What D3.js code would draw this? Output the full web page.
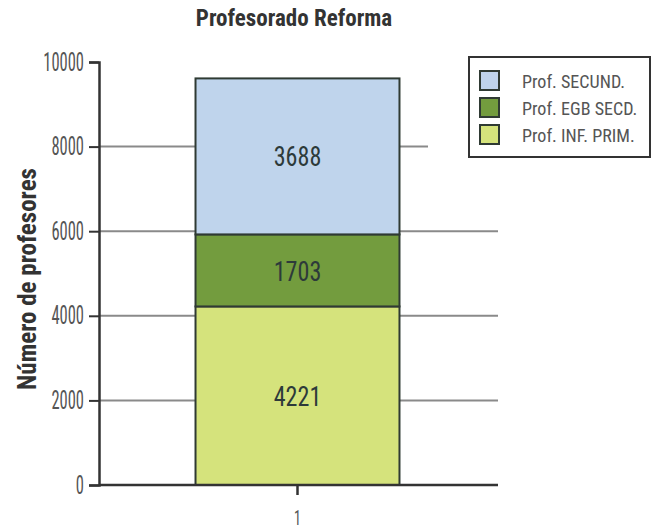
<!DOCTYPE html>
<html><head><meta charset="utf-8">
<script src="https://cdn.jsdelivr.net/npm/d3@7"></script>
<style>body{margin:0;background:#fff}</style>
</head><body>
<script>
const categories = ["1"];
const seriesNames = ["Prof. INF. PRIM.", "Prof. EGB SECD.", "Prof. SECUND."];
const infPrim = [4221];
const egbSecd = [1703];
const secund = [3688];
const yTicks = [0, 2000, 4000, 6000, 8000, 10000];
const colors = ["#d5e37c", "#739c3e", "#bfd4ec"];

const W = 654, H = 531;
const FONT = "'Roboto Condensed','Liberation Sans Narrow','Arial Narrow',sans-serif";
const svg = d3.select("body").append("svg").attr("width", W).attr("height", H);

function squeeze(sel, f) {
  sel.each(function () {
    const L = this.getComputedTextLength();
    d3.select(this).attr("textLength", L * f).attr("lengthAdjust", "spacingAndGlyphs");
  });
}

const x0 = 99, x1 = 498, yTop = 62, yBot = 485;
const y = d3.scaleLinear().domain([0, 10000]).range([yBot, yTop]);
const x = d3.scaleBand().domain(categories).range([x0 - 2, x1]).paddingInner(0).paddingOuter(0.483);

const rows = categories.map((c, i) => ({cat: c, v: [infPrim[i], egbSecd[i], secund[i]]}));
const stack = d3.stack().keys([0, 1, 2]).value((d, k) => d.v[k]);
const stacked = stack(rows);

// gridlines
svg.append("g").selectAll("line").data(yTicks.filter(t => t > 0 && t < 10000)).join("line")
  .attr("x1", x0).attr("x2", d => d === 8000 ? 428 : x1)
  .attr("y1", d => y(d)).attr("y2", d => y(d))
  .attr("stroke", "#8a8a8a").attr("stroke-width", 2);

// bars
const g = svg.append("g");
stacked.forEach((s, k) => {
  g.selectAll(null).data(s).join("rect")
    .attr("x", d => x(d.data.cat)).attr("width", x.bandwidth())
    .attr("y", d => y(d[1])).attr("height", d => y(d[0]) - y(d[1]))
    .attr("fill", colors[k]).attr("stroke", "#2f3a33").attr("stroke-width", 2);
  g.selectAll(null).data(s).join("text")
    .attr("x", d => x(d.data.cat) + x.bandwidth() / 2)
    .attr("y", d => (y(d[0]) + y(d[1])) / 2)
    .attr("dy", "0.36em").attr("text-anchor", "middle")
    .attr("font-family", FONT).attr("font-size", 28).attr("fill", "#2d3a3a")
    .text(d => d.data.v[k])
    .call(squeeze, 0.86);
});

// y axis
const ya = svg.append("g").attr("transform", `translate(${x0},0)`)
  .call(d3.axisLeft(y).tickValues(yTicks).tickSize(10).tickPadding(5).tickFormat(d3.format("d")));
ya.select(".domain").attr("stroke", "#333").attr("stroke-width", 2.5);
ya.selectAll(".tick line").attr("stroke", "#333").attr("stroke-width", 2);
ya.selectAll("text").attr("font-family", FONT).attr("font-size", 25).attr("fill", "#555")
  .call(squeeze, 0.66);

// x axis
const xa = svg.append("g").attr("transform", `translate(0,${yBot})`)
  .call(d3.axisBottom(x).tickSize(10).tickPadding(16));
xa.select(".domain").attr("stroke", "#333").attr("stroke-width", 2.5).attr("d", `M${x0},0H${x1}`);
xa.selectAll(".tick line").attr("stroke", "#333").attr("stroke-width", 2.5);
xa.selectAll("text").attr("font-family", FONT).attr("font-size", 20).attr("fill", "#555")
  .call(squeeze, 0.7);

// title
svg.append("text").attr("x", 294).attr("y", 26).attr("text-anchor", "middle")
  .attr("font-family", FONT).attr("font-weight", "bold").attr("font-size", 23).attr("fill", "#333")
  .text("Profesorado Reforma");

// y label
svg.append("text").attr("transform", "translate(36,279) rotate(-90)").attr("text-anchor", "middle")
  .attr("font-family", FONT).attr("font-weight", "bold").attr("font-size", 25).attr("fill", "#333")
  .text("Número de profesores");

// legend
const lg = svg.append("g");
lg.append("rect").attr("x", 469).attr("y", 57).attr("width", 181).attr("height", 100)
  .attr("fill", "#fff").attr("stroke", "#333").attr("stroke-width", 2);
const legendOrder = [2, 1, 0];
legendOrder.forEach((k, i) => {
  lg.append("rect").attr("x", 480).attr("y", 71 + i * 27).attr("width", 19).attr("height", 19)
    .attr("fill", colors[k]).attr("stroke", "#2f3a33").attr("stroke-width", 2);
  lg.append("text").attr("x", 522).attr("y", 81 + i * 27).attr("dy", "0.36em")
    .attr("font-family", FONT).attr("font-size", 19).attr("fill", "#555")
    .text(seriesNames[k])
    .call(squeeze, 0.95);
});
</script>
</body></html>
